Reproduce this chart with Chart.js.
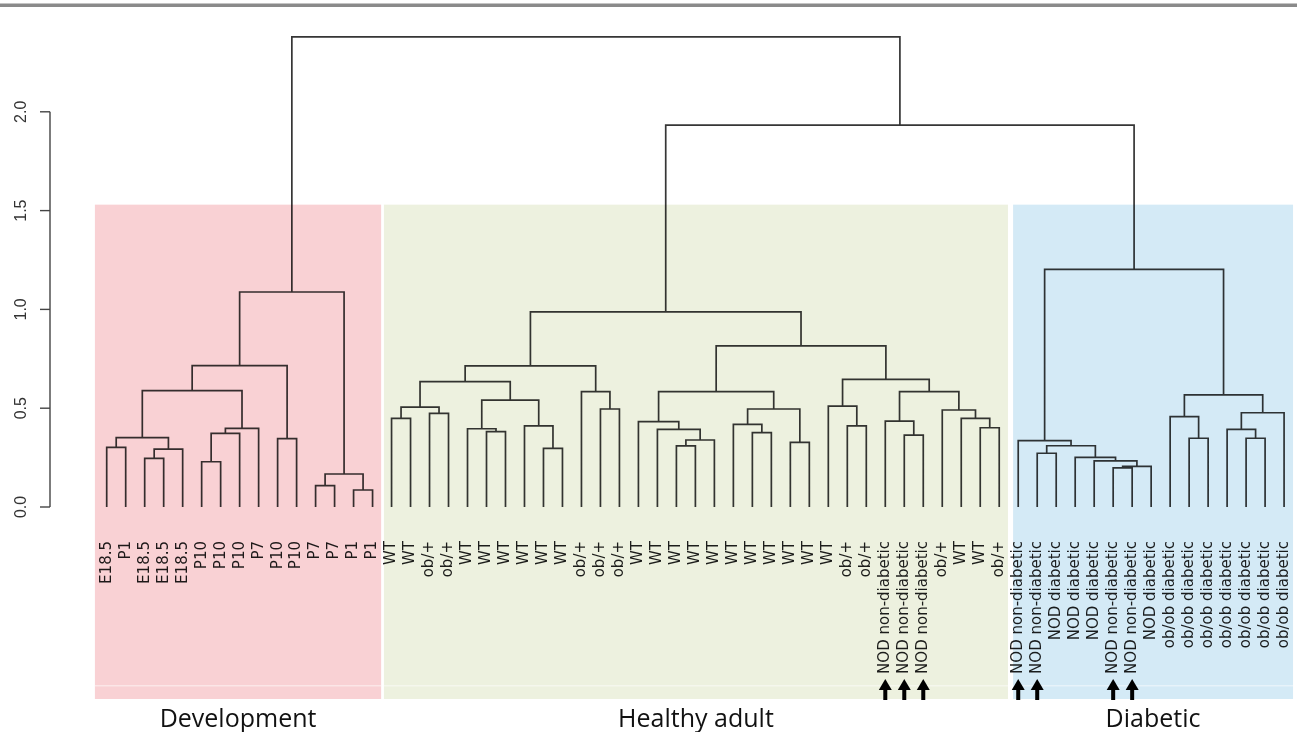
<!DOCTYPE html>
<html><head><meta charset="utf-8">
<script src="https://cdn.jsdelivr.net/npm/chart.js@4.4.1/dist/chart.umd.min.js"></script>
<style>html,body{margin:0;padding:0;background:#fff;overflow:hidden;}#wrap{width:1297px;height:732px;position:relative;}</style>
</head><body><div id="wrap"><canvas id="c"></canvas></div>
<script>
// ---- data ----
const leafLabels = [
  'E18.5','P1','E18.5','E18.5','E18.5','P10','P10','P10','P7','P10','P10','P7','P7','P1','P1',
  'WT','WT','ob/+','ob/+','WT','WT','WT','WT','WT','WT','ob/+','ob/+','ob/+',
  'WT','WT','WT','WT','WT','WT','WT','WT','WT','WT','WT','ob/+','ob/+',
  'NOD non-diabetic','NOD non-diabetic','NOD non-diabetic','ob/+','WT','WT','ob/+',
  'NOD non-diabetic','NOD non-diabetic','NOD diabetic','NOD diabetic','NOD diabetic',
  'NOD non-diabetic','NOD non-diabetic','NOD diabetic',
  'ob/ob diabetic','ob/ob diabetic','ob/ob diabetic','ob/ob diabetic','ob/ob diabetic','ob/ob diabetic','ob/ob diabetic'
];
// merge table (R hclust style): negative = leaf (1-based), positive = earlier merge row (1-based), then height
const merges = [
  [-1,-2,0.302],[-3,-4,0.246],[2,-5,0.293],[1,3,0.351],[-6,-7,0.229],[5,-8,0.373],[6,-9,0.398],
  [4,7,0.589],[-10,-11,0.346],[8,9,0.715],[-12,-13,0.108],[-14,-15,0.086],[11,12,0.167],[10,13,1.088],
  [-16,-17,0.449],[-18,-19,0.474],[15,16,0.505],[-21,-22,0.381],[-20,18,0.396],[-24,-25,0.297],
  [-23,20,0.411],[19,21,0.541],[17,22,0.634],[-27,-28,0.496],[-26,24,0.584],[23,25,0.714],
  [-31,-32,0.309],[27,-33,0.339],[-30,28,0.393],[-29,29,0.432],[-35,-36,0.376],[-34,31,0.418],
  [-37,-38,0.327],[32,33,0.496],[30,34,0.584],[-40,-41,0.411],[-39,36,0.511],[-43,-44,0.364],
  [-42,38,0.435],[-47,-48,0.401],[-46,40,0.449],[-45,41,0.491],[39,42,0.584],[37,43,0.646],
  [35,44,0.815],[26,45,0.987],
  [-50,-51,0.272],[-54,-55,0.198],[48,-56,0.206],[-53,49,0.233],[-52,50,0.251],[47,51,0.310],
  [-49,52,0.336],[-58,-59,0.348],[-57,54,0.457],[-61,-62,0.348],[-60,56,0.393],[57,-63,0.477],
  [55,58,0.567],[53,59,1.203],[46,60,1.933],[14,61,2.379]
];
const yTicks = [0, 0.5, 1.0, 1.5, 2.0];
const groupNames = ['Development','Healthy adult','Diabetic'];
const groupFirstLeaf = [0, 15, 48];
const groupLastLeaf = [14, 47, 62];
const groupTopHeight = 1.53;
const groupColors = ['#f9d1d4','#edf1df','#d4eaf6'];
const markedLeaves = [41,42,43,48,49,53,54];

// ---- build dendrogram segments in data space ----
const nodeX = [], nodeH = [];
function child(id){ return id < 0 ? {x: -id - 1, h: 0} : {x: nodeX[id - 1], h: nodeH[id - 1]}; }
const segs = [];
merges.forEach(([a, b, h], k) => {
  const A = child(a), B = child(b);
  segs.push({x: A.x, y: A.h}, {x: A.x, y: h}, {x: B.x, y: h}, {x: B.x, y: B.h}, {x: B.x, y: null});
  nodeX[k] = (A.x + B.x) / 2; nodeH[k] = h;
});

const boxPadLeft = [0.62, 0.4, 0.27];
const boxPadRight = [0.45, 0.46, 0.47];

const deco = {
  id: 'deco',
  beforeDraw(chart) {
    const ctx = chart.ctx;
    ctx.save();
    ctx.fillStyle = '#ffffff';
    ctx.fillRect(0, 0, chart.width, chart.height);
    ctx.fillStyle = '#8a8a8a';
    ctx.fillRect(0, 3.5, chart.width, 3.5);
    ctx.restore();
  },
  afterDraw(chart) {
    const {ctx, chartArea, scales: {x, y}} = chart;
    ctx.save();
    // y axis
    const ax = chartArea.left;
    ctx.strokeStyle = '#444'; ctx.lineWidth = 1.4;
    ctx.beginPath();
    ctx.moveTo(ax, y.getPixelForValue(yTicks[0]));
    ctx.lineTo(ax, y.getPixelForValue(yTicks[yTicks.length - 1]));
    ctx.stroke();
    ctx.font = '16px "Liberation Sans", Arial, sans-serif';
    ctx.fillStyle = '#333';
    ctx.textAlign = 'center'; ctx.textBaseline = 'middle';
    yTicks.forEach(t => {
      const py = y.getPixelForValue(t);
      ctx.beginPath(); ctx.moveTo(ax - 10, py); ctx.lineTo(ax, py); ctx.stroke();
      ctx.save(); ctx.translate(ax - 28, py); ctx.rotate(-Math.PI / 2);
      ctx.fillText(t.toFixed(1), 0, 0); ctx.restore();
    });
    // shaded group boxes (multiply so lines/labels underneath are tinted)
    const top = y.getPixelForValue(groupTopHeight);
    const bottom = chartArea.bottom + 192;
    const centers = [];
    groupNames.forEach((g, i) => {
      const x0 = x.getPixelForValue(groupFirstLeaf[i] - boxPadLeft[i]);
      const x1 = x.getPixelForValue(groupLastLeaf[i] + boxPadRight[i]);
      centers.push((x0 + x1) / 2);
      ctx.globalCompositeOperation = 'multiply';
      ctx.fillStyle = groupColors[i];
      ctx.fillRect(x0, top, x1 - x0, bottom - top);
      ctx.globalCompositeOperation = 'source-over';
      ctx.fillStyle = 'rgba(255,255,255,0.45)';
      ctx.fillRect(x0, chartArea.bottom + 178, x1 - x0, 1.5);
    });
    // arrows
    ctx.fillStyle = '#000';
    markedLeaves.forEach(i => {
      const px = x.getPixelForValue(i);
      const tipY = chartArea.bottom + 172;
      ctx.beginPath();
      ctx.moveTo(px, tipY); ctx.lineTo(px - 6.5, tipY + 11); ctx.lineTo(px + 6.5, tipY + 11);
      ctx.closePath(); ctx.fill();
      ctx.fillRect(px - 2, tipY + 10, 4, 11);
    });
    // group titles
    ctx.fillStyle = '#111';
    ctx.font = '25px "Open Sans", sans-serif';
    ctx.textAlign = 'center'; ctx.textBaseline = 'alphabetic';
    groupNames.forEach((g, i) => ctx.fillText(g, centers[i], chartArea.bottom + 220));
    ctx.restore();
  }
};

new Chart(document.getElementById('c'), {
  type: 'line',
  data: { datasets: [{
    data: segs, borderColor: '#363636', borderWidth: 1.7, pointRadius: 0, pointHoverRadius: 0,
    tension: 0, spanGaps: false, clip: false, fill: false
  }]},
  options: {
    responsive: true, maintainAspectRatio: false, animation: false,
    layout: { padding: { left: 50, right: 2, top: 13, bottom: 0 } },
    plugins: { legend: { display: false }, tooltip: { enabled: false } },
    events: [],
    scales: {
      x: {
        type: 'linear', min: -2.986, max: 62.575,
        grid: { display: false, drawTicks: false }, border: { display: false },
        afterBuildTicks: s => { s.ticks = leafLabels.map((_, i) => ({ value: i })); },
        afterFit: s => { s.height = 225; s.paddingLeft = 0; s.paddingRight = 0; },
        ticks: {
          autoSkip: false, minRotation: 90, maxRotation: 90, padding: 34,
          color: '#1e1e1e', font: { family: 'DejaVu Sans', size: 15 },
          callback: v => leafLabels[v]
        }
      },
      y: { type: 'linear', min: 0, max: 2.5, display: false }
    }
  },
  plugins: [deco]
});
</script></body></html>
